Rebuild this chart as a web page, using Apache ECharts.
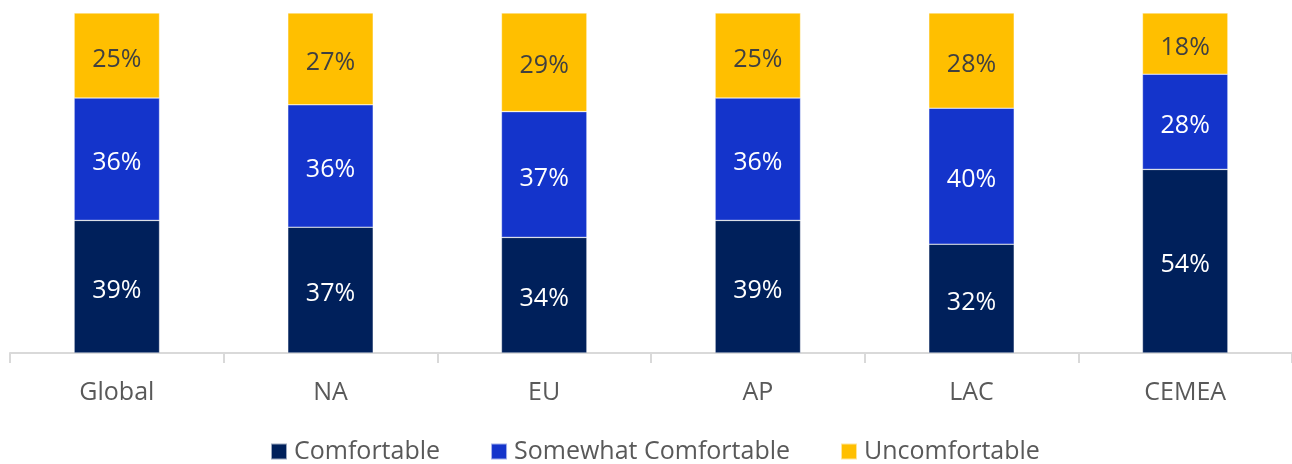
<!DOCTYPE html>
<html>
<head>
<meta charset="utf-8">
<script src="https://cdn.jsdelivr.net/npm/echarts@6/dist/echarts.min.js"></script>
<style>
  html, body { margin: 0; padding: 0; background: #fff; }
  #chart { width: 1292px; height: 464px; }
</style>
</head>
<body>
<div id="chart"></div>
<script>
// Regions shown along the x axis
const regions = ['Global', 'NA', 'EU', 'AP', 'LAC', 'CEMEA'];
// Share of respondents per comfort level (percent)
const comfortable = [39, 37, 34, 39, 32, 54];
const somewhatComfortable = [36, 36, 37, 36, 40, 28];
const uncomfortable = [25, 27, 29, 25, 28, 18];

const FONT = '"Open Sans", "Noto Sans", sans-serif';

function stackSeries(name, data, color, labelColor) {
  return {
    name: name,
    type: 'bar',
    stack: 'total',
    data: data,
    barWidth: '40%',
    itemStyle: { color: color, borderColor: 'rgba(255,255,255,0.6)', borderWidth: 0.6 },
    label: {
      show: true,
      position: 'inside',
      offset: [0, 4],
      formatter: '{c}%',
      color: labelColor,
      fontFamily: FONT,
      fontSize: 25
    }
  };
}

const chart = echarts.init(document.getElementById('chart'), null, { renderer: 'canvas' });
chart.setOption({
  animation: false,
  grid: { left: 10, right: 0, top: 13, bottom: 111, containLabel: false },
  legend: {
    top: 434,
    left: 265,
    itemWidth: 16,
    itemHeight: 16,
    itemGap: 50,
    icon: 'rect',
    textStyle: { fontFamily: FONT, fontSize: 25, color: '#595959', padding: [0, 0, 0, 2] },
    data: ['Comfortable', 'Somewhat Comfortable', 'Uncomfortable']
  },
  xAxis: {
    type: 'category',
    data: regions,
    axisLine: { lineStyle: { color: '#d9d9d9', width: 2 } },
    axisTick: { show: true, length: 10, lineStyle: { color: '#d9d9d9', width: 2 } },
    axisLabel: { fontFamily: FONT, fontSize: 25, color: '#595959', margin: 27 }
  },
  yAxis: {
    type: 'value',
    min: 0,
    max: 100,
    show: false,
    splitLine: { show: false }
  },
  series: [
    stackSeries('Comfortable', comfortable, '#00205b', '#ffffff'),
    stackSeries('Somewhat Comfortable', somewhatComfortable, '#1434cb', '#ffffff'),
    stackSeries('Uncomfortable', uncomfortable, '#ffbf00', '#404040')
  ]
});
</script>
</body>
</html>
